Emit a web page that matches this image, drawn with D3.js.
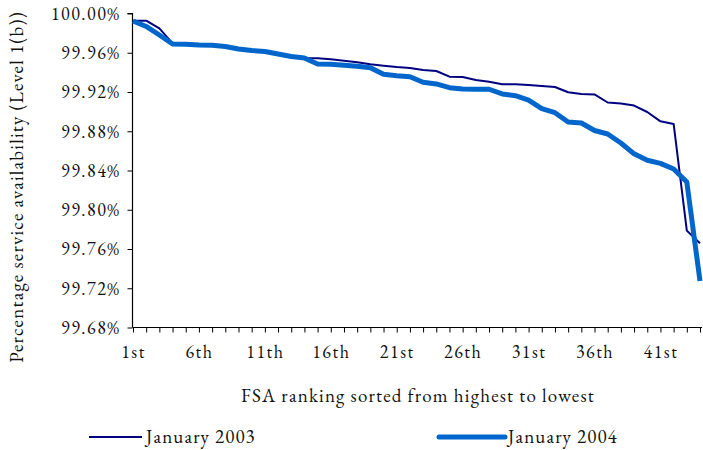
<!DOCTYPE html>
<html>
<head>
<meta charset="utf-8">
<script src="https://cdn.jsdelivr.net/npm/d3@7"></script>
</head>
<body style="margin:0; background:#fff">
<svg id="viz" width="703" height="450"></svg>
<script>
// FSA ranks (categories)
var ranks = [1, 2, 3, 4, 5, 6, 7, 8, 9, 10, 11, 12, 13, 14, 15, 16, 17, 18, 19, 20, 21, 22,
             23, 24, 25, 26, 27, 28, 29, 30, 31, 32, 33, 34, 35, 36, 37, 38, 39, 40, 41, 42, 43, 44];

// percentage service availability, January 2003
var jan2003 = [99.9927, 99.9927, 99.9849, 99.9696, 99.9686, 99.9679, 99.9676, 99.9664, 99.9638, 99.9623,
               99.9613, 99.9582, 99.9562, 99.9547, 99.9543, 99.9533, 99.9519, 99.9503, 99.9482, 99.9468,
               99.9455, 99.9445, 99.9424, 99.9414, 99.9356, 99.9353, 99.9322, 99.9305, 99.9279, 99.9279,
               99.9271, 99.9261, 99.9251, 99.9197, 99.9180, 99.9175, 99.9093, 99.9083, 99.9062, 99.8996,
               99.8901, 99.8874, 99.7787, 99.7658];

// percentage service availability, January 2004
var jan2004 = [99.9924, 99.9868, 99.9781, 99.9689, 99.9686, 99.9679, 99.9676, 99.9664, 99.9638, 99.9623,
               99.9613, 99.9587, 99.9562, 99.9547, 99.9485, 99.9482, 99.9472, 99.9462, 99.9448, 99.9380,
               99.9366, 99.9356, 99.9299, 99.9282, 99.9244, 99.9231, 99.9228, 99.9228, 99.9180, 99.9162,
               99.9118, 99.9030, 99.8989, 99.8894, 99.8884, 99.8808, 99.8772, 99.8680, 99.8570, 99.8504,
               99.8473, 99.8415, 99.8283, 99.7274];

var yTicks = [99.68, 99.72, 99.76, 99.80, 99.84, 99.88, 99.92, 99.96, 100.00];
var xLabelRanks = [1, 6, 11, 16, 21, 26, 31, 36, 41];

var seriesNames = ["January 2003", "January 2004"];
var seriesColors = ["#000080", "#0066CC"];
var seriesWidths = [2, 5];

var FONT = "'EB Garamond', 'Liberation Serif', serif";

function ordinal(n) {
    var s = ["th", "st", "nd", "rd"], v = n % 100;
    return n + (s[(v - 20) % 10] || s[v] || s[0]);
}

var svg = d3.select("#viz");

var x = d3.scalePoint().domain(ranks).range([133, 700]).padding(0);
var y = d3.scaleLinear().domain([99.68, 100]).range([327.5, 13.5]);

// y axis
var yAxis = svg.append("g")
    .attr("transform", "translate(132.5,0)")
    .call(d3.axisLeft(y).tickValues(yTicks).tickSize(5).tickPadding(7)
        .tickFormat(function (d) { return d3.format(".2f")(d) + "%"; }));
yAxis.select(".domain").attr("d", "M-5,13.5H0V327.5");

// x axis
var xAxis = svg.append("g")
    .attr("transform", "translate(0,327.5)")
    .call(d3.axisBottom(x).tickSize(5).tickPadding(13)
        .tickFormat(function (d) { return xLabelRanks.indexOf(d) >= 0 ? ordinal(d) : ""; }));
xAxis.select(".domain").attr("d", "M132.5,0H702");

svg.selectAll(".tick line").attr("stroke", "#000");
svg.selectAll(".domain").attr("stroke", "#000").attr("stroke-width", 1.2);
svg.selectAll(".tick text")
    .attr("fill", "#111")
    .style("font-family", FONT)
    .style("font-size", "18px")
    .style("letter-spacing", "1.5px");

// lines
var line = d3.line()
    .x(function (d, i) { return x(ranks[i]); })
    .y(function (d) { return y(d); });

[jan2003, jan2004].forEach(function (s, k) {
    svg.append("path")
        .datum(s)
        .attr("fill", "none")
        .attr("stroke", seriesColors[k])
        .attr("stroke-width", seriesWidths[k])
        .attr("stroke-linejoin", "round")
        .attr("d", line);
});

// axis titles
svg.append("text")
    .attr("x", 418).attr("y", 402)
    .attr("text-anchor", "middle")
    .attr("fill", "#111")
    .style("font-family", FONT)
    .style("font-size", "19px")
    .style("letter-spacing", "1.2px")
    .text("FSA ranking sorted from highest to lowest");

svg.append("text")
    .attr("transform", "translate(23,187) rotate(-90)")
    .attr("text-anchor", "middle")
    .attr("fill", "#111")
    .style("font-family", FONT)
    .style("font-size", "19px")
    .style("letter-spacing", "1.2px")
    .text("Percentage service availability (Level 1(b))");

// legend
var legendX = [89, 439];
var legend = svg.append("g");
seriesNames.forEach(function (name, k) {
    legend.append("line")
        .attr("x1", legendX[k]).attr("x2", legendX[k] + (k ? 66 : 53))
        .attr("y1", 437).attr("y2", 437)
        .attr("stroke", seriesColors[k])
        .attr("stroke-width", seriesWidths[k])
        .attr("stroke-linecap", k ? "round" : "butt");
    legend.append("text")
        .attr("x", legendX[k] + (k ? 69 : 57)).attr("y", 443)
        .attr("fill", "#111")
        .style("font-family", FONT)
        .style("font-size", "19px")
        .style("letter-spacing", "1.1px")
        .text(name);
});
</script>
</body>
</html>
